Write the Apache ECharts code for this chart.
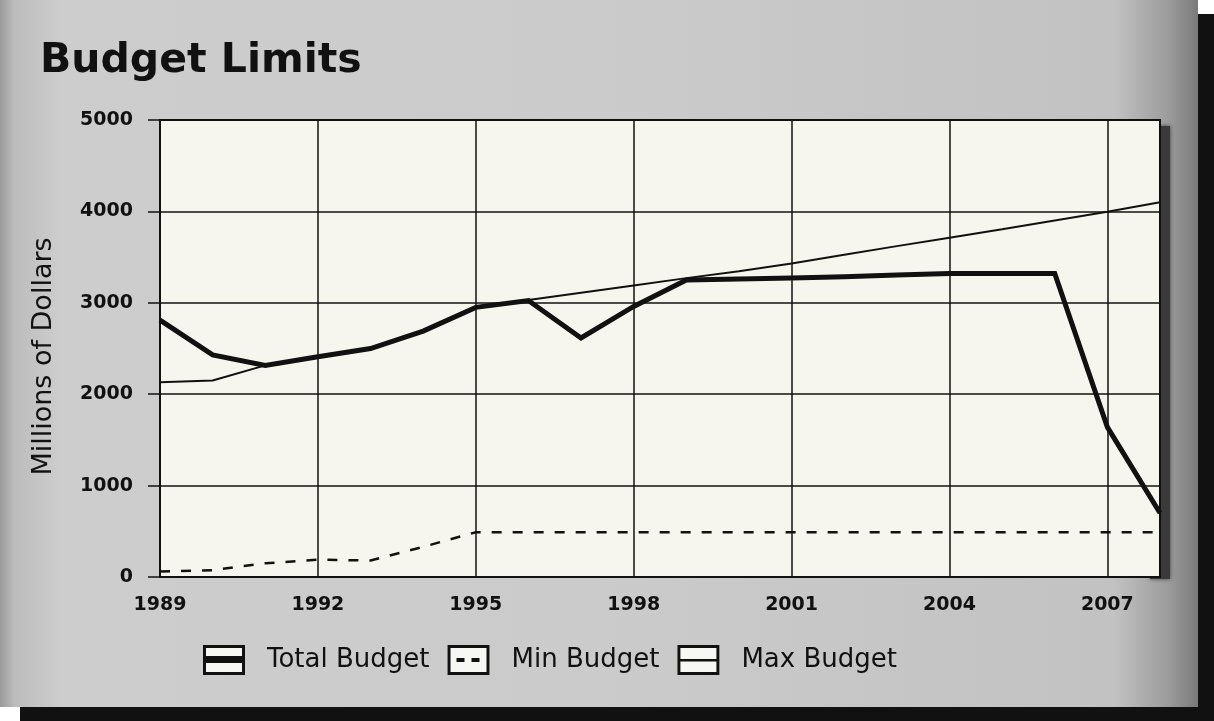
<!DOCTYPE html>
<html>
<head>
<meta charset="utf-8">
<script src="https://cdn.jsdelivr.net/npm/echarts@6/dist/echarts.min.js"></script>
<style>
html,body{margin:0;padding:0;background:#ffffff;}
#chart{width:1214px;height:721px;}
</style>
</head>
<body>
<div id="chart"></div>
<script>
const years = [1989,1990,1991,1992,1993,1994,1995,1996,1997,1998,1999,2000,2001,2002,2003,2004,2005,2006,2007,2008];
const totalBudget = [2810,2430,2315,2410,2500,2690,2950,3025,2615,2960,3250,3260,3270,3285,3305,3320,3320,3320,1640,700];
const minBudget = [60,75,150,190,180,330,490,490,490,490,490,490,490,490,490,490,490,490,490,490];
const maxBudget = [2130,2150,2315,2410,2500,2690,2950,3030,3110,3190,3270,3345,3430,3525,3620,3712,3805,3900,3995,4100];
const xTickLabels = ['1989','1992','1995','1998','2001','2004','2007'];
const seriesNames = ['Total Budget','Min Budget','Max Budget'];
const titleText = 'Budget Limits';
const yAxisTitle = 'Millions of Dollars';

const toPairs = arr => arr.map((v,i)=>[years[i], v]);

const chart = echarts.init(document.getElementById('chart'), null, {renderer:'canvas'});

const iconTotal = 'path://M0,0 H42 V30 H0 Z M3,3 V27 H39 V3 Z M3,11 H39 V18 H3 Z';
const iconMin = 'path://M0,0 H42 V30 H0 Z M3,3 V27 H39 V3 Z M9,13 H17 V17 H9 Z M24,13 H32 V17 H24 Z';
const iconMax = 'path://M0,0 H42 V30 H0 Z M3,3 V27 H39 V3 Z M3,14 H39 V16.5 H3 Z';

const legendCommon = {
  left: 198, top: 640, itemWidth: 42, itemHeight: 30, itemGap: 18,
  selectedMode: false,
  formatter: name => '{t|' + name + '}',
};
const legendFont = {fontFamily:'DejaVu Sans', fontSize:26};

chart.setOption({
  backgroundColor: '#ffffff',
  animation: false,
  graphic: [
    {type:'rect', z:-10, shape:{x:20,y:14,width:1194,height:707}, style:{fill:'#111111'}, silent:true},
    {type:'rect', z:-9, shape:{x:0,y:0,width:1198,height:707},
      style:{fill:{type:'linear',x:0,y:0,x2:1,y2:0,colorStops:[
        {offset:0,color:'#9a9a9a'},{offset:0.012,color:'#bcbcbc'},{offset:0.05,color:'#cdcdcd'},
        {offset:0.5,color:'#cbcbcb'},{offset:0.93,color:'#c2c2c2'},{offset:0.975,color:'#9c9c9c'},{offset:1,color:'#7a7a7a'}]}},
      silent:true},
    {type:'rect', z:-8, shape:{x:1150,y:126,width:20,height:453},
      style:{fill:'#3a3a3a', shadowBlur:4, shadowColor:'rgba(0,0,0,0.6)'}, silent:true}
  ],
  title: {
    text: titleText, left: 35, top: 36,
    textStyle: {fontFamily:'DejaVu Sans', fontWeight:'bold', fontSize:41, color:'#111'}
  },
  legend: [
    Object.assign({}, legendCommon, {
      z: 2,
      data: seriesNames.map(n=>({name:n, icon:'rect', itemStyle:{color:'#f7f7f3', borderWidth:0}})),
      textStyle: Object.assign({color:'transparent', rich:{t:Object.assign({color:'transparent', padding:[0,0,0,17]}, legendFont)}}, legendFont)
    }),
    Object.assign({}, legendCommon, {
      z: 3,
      data: [
        {name:seriesNames[0], icon:iconTotal, itemStyle:{color:'#111', borderWidth:0, borderColor:'transparent'}},
        {name:seriesNames[1], icon:iconMin, itemStyle:{color:'#111', borderWidth:0, borderColor:'transparent'}},
        {name:seriesNames[2], icon:iconMax, itemStyle:{color:'#111', borderWidth:0, borderColor:'transparent'}}
      ],
      textStyle: Object.assign({color:'#111', rich:{t:Object.assign({color:'#111', padding:[0,0,0,17]}, legendFont)}}, legendFont)
    })
  ],
  grid: {
    left: 160, right: 54, top: 120, bottom: 144,
    show: true, backgroundColor: '#f7f6ee', borderColor: '#111', borderWidth: 2
  },
  xAxis: {
    type: 'value', min: 1989, max: 2008, interval: 3,
    axisLine: {show:true, lineStyle:{color:'#111', width:2}},
    axisTick: {show:false},
    splitLine: {show:true, lineStyle:{color:'#111', width:1.5}},
    axisLabel: {margin: 19, color:'#111', fontFamily:'DejaVu Sans', fontWeight:'bold', fontSize:19,
      showMaxLabel: false,
      formatter: v => xTickLabels.indexOf(String(v)) >= 0 ? String(v) : ''}
  },
  yAxis: {
    type: 'value', min: 0, max: 5000, interval: 1000,
    name: yAxisTitle, nameLocation: 'middle', nameGap: 103,
    nameTextStyle: {fontFamily:'DejaVu Sans', fontSize:27, color:'#111', padding:[0,0,0,-16]},
    axisLine: {show:true, lineStyle:{color:'#111', width:2}},
    axisTick: {show:true, length:12, lineStyle:{color:'#111', width:1.5}},
    splitLine: {show:true, lineStyle:{color:'#111', width:1.5}},
    axisLabel: {margin: 27, color:'#111', fontFamily:'DejaVu Sans', fontWeight:'bold', fontSize:19,
      formatter: v => String(v)}
  },
  series: [
    {name: seriesNames[2], type:'line', data: toPairs(maxBudget), symbol:'none', z:3,
      lineStyle:{color:'#111', width:2}, itemStyle:{color:'#111'}},
    {name: seriesNames[1], type:'line', data: toPairs(minBudget), symbol:'none', z:3,
      lineStyle:{color:'#111', width:2.5, type:[10,11]}, itemStyle:{color:'#111'}},
    {name: seriesNames[0], type:'line', data: toPairs(totalBudget), symbol:'none', z:4,
      lineStyle:{color:'#111', width:5, join:'miter'}, itemStyle:{color:'#111'}}
  ]
});
</script>
</body>
</html>
